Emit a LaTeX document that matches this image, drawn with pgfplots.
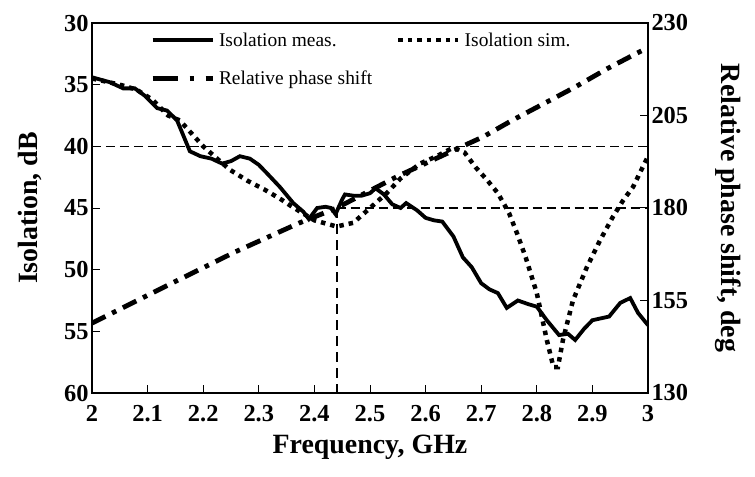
\documentclass[border=0pt]{standalone}
\usepackage{fontspec}
\setmainfont{Liberation Serif}
\usepackage{pgfplots}
\pgfplotsset{compat=1.18}
\usetikzlibrary{calc}

\pgfplotstableread{
x y
2.000 34.4
2.032 34.8
2.056 35.3
2.077 35.3
2.095 35.9
2.117 36.9
2.135 37.1
2.153 37.9
2.165 39.2
2.176 40.4
2.195 40.8
2.215 41.0
2.234 41.4
2.250 41.2
2.266 40.8
2.284 41.0
2.300 41.5
2.315 42.2
2.338 43.3
2.362 44.6
2.380 45.3
2.390 45.9
2.405 45.0
2.420 44.9
2.430 45.0
2.438 45.5
2.450 44.3
2.455 43.9
2.470 44.0
2.485 44.0
2.500 43.8
2.510 43.4
2.525 43.9
2.540 44.7
2.555 45.0
2.565 44.6
2.585 45.2
2.600 45.8
2.615 46.0
2.630 46.1
2.650 47.3
2.667 49.0
2.683 49.8
2.700 51.1
2.715 51.6
2.730 51.9
2.746 53.1
2.766 52.5
2.785 52.8
2.800 53.0
2.818 54.1
2.840 55.3
2.856 55.2
2.869 55.7
2.885 54.8
2.900 54.1
2.930 53.8
2.950 52.7
2.968 52.3
2.982 53.5
3.000 54.5
}\meas

\pgfplotstableread{
x y
2.000 34.5
2.050 35.0
2.080 35.4
2.108 36.2
2.137 37.5
2.158 37.9
2.180 39.0
2.200 40.0
2.225 41.0
2.248 41.9
2.280 42.8
2.310 43.5
2.340 44.3
2.360 44.9
2.400 46.0
2.440 46.5
2.470 46.2
2.500 45.0
2.530 43.8
2.555 42.6
2.590 41.4
2.620 40.8
2.650 40.1
2.670 40.5
2.690 41.7
2.710 42.7
2.730 43.8
2.750 45.4
2.764 47.0
2.780 49.0
2.800 51.9
2.818 55.7
2.830 57.9
2.838 57.9
2.847 55.7
2.865 52.5
2.890 49.8
2.914 47.6
2.937 45.7
2.955 44.4
2.973 43.3
3.000 40.8
}\sim

\pgfplotstableread{
x y
2.000 148.9
2.036 151.6
2.144 159.7
2.257 168.1
2.372 175.9
2.440 180.0
2.550 188.6
2.671 197.0
2.703 199.2
2.757 203.8
2.815 208.4
2.869 212.7
2.926 217.6
2.982 222.0
3.000 223.3
}\phase

\begin{document}
\begin{tikzpicture}
\pgfplotsset{
  common/.style={
    scale only axis, width=556bp, height=370bp,
    xmin=2, xmax=3,
    /pgf/number format/assume math mode=true,
    tick label style={font=\fontsize{24.5}{24.5}\selectfont\bfseries},
    label style={font=\fontsize{28}{30}\selectfont\bfseries},
    tick align=inside, major tick length=8bp,
    every tick/.style={black, line width=1bp},
    axis line style={line width=1.2bp},
  },
  solidst/.style={black, line width=3.8bp},
  dotst/.style={black, line width=4.5bp, line cap=butt, dash pattern=on 4.5bp off 5bp},
  dashdotst/.style={black, line width=4.8bp, line cap=butt, dash pattern=on 15bp off 7.5bp on 4.5bp off 7.5bp},
}
\begin{axis}[common,
  ymin=30, ymax=60, y dir=reverse,
  ytick={30,35,40,45,50,55,60},
  xtick={2,2.1,2.2,2.3,2.4,2.5,2.6,2.7,2.8,2.9,3},
  xticklabels={2,2.1,2.2,2.3,2.4,2.5,2.6,2.7,2.8,2.9,3},
  xtick pos=bottom, ytick pos=left,
  xticklabel style={yshift=-9bp},
  xlabel={Frequency, GHz},
  ylabel={Isolation, dB},
  xlabel style={at={(axis description cs:0.5,-0.146)}, anchor=center},
  ylabel style={at={(axis description cs:-0.1115,0.5)}, anchor=center},
]
\coordinate (bl) at (axis description cs:0,0);
\coordinate (tr) at (axis description cs:1,1);
\addplot[black, line width=1.3bp, dash pattern=on 9bp off 5bp, forget plot] coordinates {(2,40) (3,40)};
\addplot[black, line width=1.3bp, dash pattern=on 9bp off 5bp, forget plot] coordinates {(2.44,45) (3,45)};
\addplot[black, line width=2bp, dash pattern=on 10bp off 6bp, forget plot] coordinates {(2.44,45) (2.44,60)};
\addplot[solidst, forget plot] table[x=x,y=y] {\meas};
\addplot[dotst, forget plot] table[x=x,y=y] {\sim};
\end{axis}
\begin{axis}[common,
  ymin=130, ymax=230,
  ytick={130,155,180,205,230},
  axis y line*=right, axis x line=none,
  ylabel={Relative phase shift, deg},
  ylabel style={at={(axis description cs:1.144,0.5)}, anchor=center, rotate=180},
  legend columns=2,
  legend style={at={(axis description cs:0.099,0.985)}, anchor=north west,
    draw=none, fill=none, font=\fontsize{19.5}{20}\selectfont, row sep=19bp,
    /tikz/every even column/.append style={column sep=22bp},
    /tikz/every odd column/.append style={column sep=2bp}},
  legend cell align=left,
  legend image code/.code={\draw[#1] (0bp,0bp) -- (60bp,0bp);},
]
\addlegendimage{solidst}
\addlegendentry{Isolation meas.}
\addlegendimage{dotst}
\addlegendentry{Isolation sim.}
\addlegendimage{black, line width=4.8bp, line cap=butt, dash pattern=on 25bp off 12bp on 4bp off 12bp}
\addlegendentry{Relative phase shift}
\addplot[dashdotst, forget plot] table[x=x,y=y] {\phase};
\end{axis}
\pgfresetboundingbox
\path ($(bl)+(-92bp,-84bp)$) rectangle ($(tr)+(107bp,23bp)$);
\end{tikzpicture}
\end{document}
